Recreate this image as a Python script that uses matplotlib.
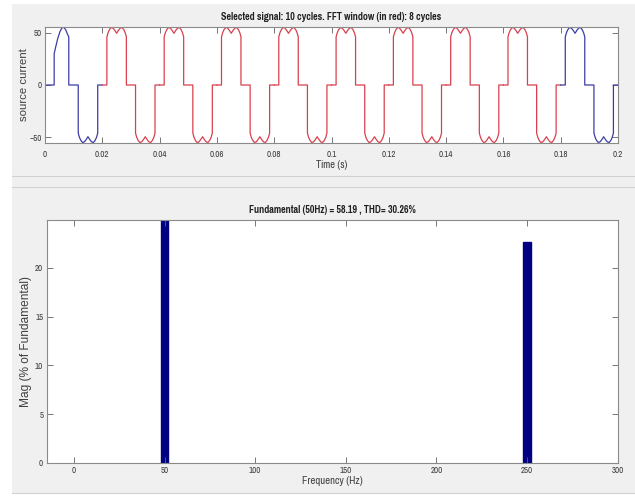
import numpy as np
import matplotlib
matplotlib.use('Agg')
import matplotlib.pyplot as plt
from matplotlib.patches import Rectangle

# waveform vertices (time in ms inside one 20 ms period, current in A)
first_t = [0, 3.2, 3.2, 3.7, 4.4, 5.2, 6.0, 6.6, 7.2, 7.8, 8.3, 8.3,
           11.6, 11.6, 12.0, 12.5, 13.1, 13.7, 14.3, 15.0, 15.7, 16.3, 16.9, 17.5, 18.0, 18.4, 18.4, 20]
first_i = [0, 0, 30, 36, 44, 51, 55, 55, 53, 49, 46, 0,
           0, -46, -50, -53, -55, -54.5, -52.5, -49.5, -52.5, -54.5, -55, -53, -50, -46, 0, 0]

cycle_t = [0, 1.6, 1.6, 2.0, 2.5, 3.1, 3.7, 4.3, 5.0, 5.7, 6.3, 6.9, 7.5, 8.0, 8.4, 8.4,
           11.6, 11.6, 12.0, 12.5, 13.1, 13.7, 14.3, 15.0, 15.7, 16.3, 16.9, 17.5, 18.0, 18.4, 18.4, 20]
cycle_i = [0, 0, 46, 50, 53, 55, 54.5, 52.5, 49.5, 52.5, 54.5, 55, 53, 50, 46, 0,
           0, -46, -50, -53, -55, -54.5, -52.5, -49.5, -52.5, -54.5, -55, -53, -50, -46, 0, 0]

n_cycles = 10
red_cycles = range(1, 9)   # FFT window: cycles 2..9

# FFT result
harm_freq = [50, 250]
harm_mag = [100, 22.6]

title_top = 'Selected signal: 10 cycles. FFT window (in red): 8 cycles'
title_bot = 'Fundamental (50Hz) = 58.19 , THD= 30.26%'

# matlab's figure text looks condensed
narrow = ['Pragati Narrow', 'Archivo Narrow', 'Liberation Sans', 'DejaVu Sans']
plain = ['Liberation Sans', 'DejaVu Sans']
spine_col = '#8a8a8a'
text_col = '#404040'
tick_fs = 7.0
title_fs = 7.9

fig = plt.figure(figsize=(6.35, 4.97), dpi=100, facecolor='white')
fig.patches.append(Rectangle((12 / 635, 4 / 497), 1 - 12 / 635, 1 - 8 / 497,
                             transform=fig.transFigure, facecolor='#f0f0f0',
                             edgecolor='none', zorder=-10))
# panel separator
for yy in (176, 187):
    fig.add_artist(plt.Line2D([12 / 635, 1], [1 - yy / 497] * 2, color='#d2d2d2', lw=0.8))
fig.add_artist(plt.Line2D([12 / 635, 1], [1 - 493 / 497] * 2, color='#d2d2d2', lw=0.8))


def style_axes(ax, xpad):
    for s in ax.spines.values():
        s.set_color(spine_col)
        s.set_linewidth(0.8)
    ax.tick_params(direction='in', length=4, width=0.6, color='#606060',
                   top=True, right=True, labelsize=tick_fs, labelcolor=text_col)
    ax.tick_params(axis='x', pad=xpad)
    ax.tick_params(axis='y', pad=2.5)
    for lab in ax.get_xticklabels() + ax.get_yticklabels():
        lab.set_family(narrow)


# ---- top: time signal ----
ax1 = fig.add_axes([45 / 635, 1 - 143 / 497, 573 / 635, 116 / 497])
ax1.set_facecolor('white')
t0 = np.array(first_t) / 1000.0
ax1.plot(t0, first_i, color='#3c3ca8', lw=0.9)
for k in red_cycles:
    tk = (np.array(cycle_t) + 20 * k) / 1000.0
    ax1.plot(tk, cycle_i, color='#d8404e', lw=0.9)
tl = (np.array(cycle_t) + 20 * (n_cycles - 1)) / 1000.0
ax1.plot(tl, cycle_i, color='#3c3ca8', lw=0.9)
ax1.set_xlim(0, 0.2)
ax1.set_ylim(-55.5, 55.5)
ax1.set_xticks(np.arange(0, 0.201, 0.02))
ax1.set_xticklabels(['0', '0.02', '0.04', '0.06', '0.08', '0.1', '0.12', '0.14', '0.16', '0.18', '0.2'])
ax1.set_yticks([-50, 0, 50])
style_axes(ax1, 5)
ax1.set_title(title_top, fontsize=title_fs, fontweight='bold', family=narrow, pad=5, color='#202020')
ax1.set_xlabel('Time (s)', fontsize=8.2, family=narrow, color=text_col, labelpad=1)
ax1.set_ylabel('source current', fontsize=8.2, family=plain, color=text_col)
ax1.yaxis.set_label_coords(-0.028, 0.5)

# ---- bottom: spectrum ----
ax2 = fig.add_axes([46.7 / 635, 1 - 463 / 497, 571 / 635, 243 / 497])
ax2.set_facecolor('white')
ax2.bar(harm_freq, harm_mag, width=4, color='#000080', edgecolor='#000080')
ax2.set_xlim(-15, 300)
ax2.set_ylim(0, 24.9)
ax2.set_xticks([0, 50, 100, 150, 200, 250, 300])
ax2.set_yticks([0, 5, 10, 15, 20])
style_axes(ax2, 2)
ax2.set_title(title_bot, fontsize=title_fs, fontweight='bold', family=narrow, pad=5, color='#202020')
ax2.set_xlabel('Frequency (Hz)', fontsize=8.4, family=narrow, color=text_col, labelpad=1)
ax2.set_ylabel('Mag (% of Fundamental)', fontsize=8.6, family=plain, color=text_col)
ax2.yaxis.set_label_coords(-0.026, 0.5)

fig.savefig('out.png', dpi=100, facecolor=fig.get_facecolor())
